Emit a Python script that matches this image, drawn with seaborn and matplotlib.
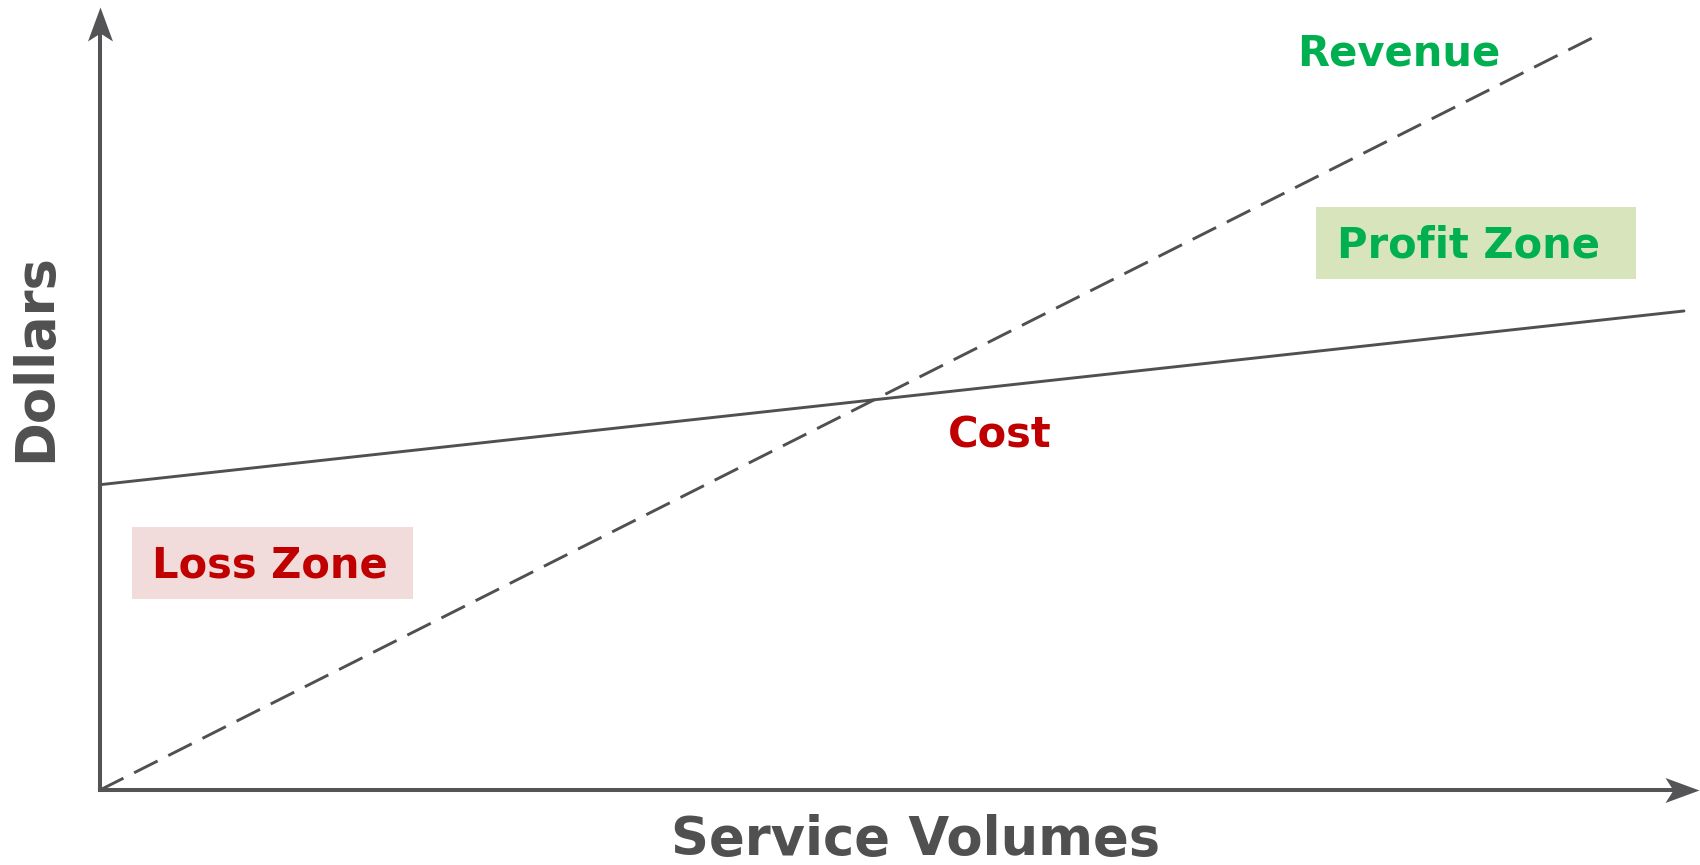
import matplotlib
matplotlib.use("Agg")
import matplotlib.pyplot as plt
import seaborn as sns
import pandas as pd
from matplotlib.patches import Rectangle
from matplotlib.path import Path

# ---- data (arbitrary units) ----
volume_cost = [0, 100]
cost = [40.6, 63.7]
volume_revenue = [0, 94.2]
revenue = [0, 100]

x_label = "Service Volumes"
y_label = "Dollars"
revenue_label = "Revenue"
cost_label = "Cost"
profit_label = "Profit Zone"
loss_label = "Loss Zone"

sns.set_theme(style="white")
plt.rcParams['font.family'] = ['DejaVu Sans']

W, H, DPI = 1700, 865, 100
fig = plt.figure(figsize=(W / DPI, H / DPI), dpi=DPI)
fig.patch.set_facecolor("white")

# axes from origin (100, 790)px to arrow tips
ox, oy = 100, 790
right_px, top_px = 1699, 7
ax = fig.add_axes([ox / W, (H - oy) / H, (right_px - ox) / W, (oy - top_px) / H])
sx = 1584 / 100.0   # px per x unit
sy = 752 / 100.0    # px per y unit
xmax = (right_px - ox) / sx
ymax = (oy - top_px) / sy
ax.set_xlim(0, xmax)
ax.set_ylim(0, ymax)
ax.set_axis_off()

line_col = "#505050"
axis_col = "#545456"
red = "#C00000"
green = "#00B050"

cost_df = pd.DataFrame({"volume": volume_cost, "dollars": cost})
rev_df = pd.DataFrame({"volume": volume_revenue, "dollars": revenue})
sns.lineplot(data=cost_df, x="volume", y="dollars", ax=ax, color=line_col,
             linewidth=2.1, clip_on=False)
sns.lineplot(data=rev_df, x="volume", y="dollars", ax=ax, color=line_col,
             linewidth=2.1, clip_on=False)
ax.lines[-1].set_dashes((9, 4.11))

# axis lines with stealth arrowheads
notch = 26  # px
ax.plot([0, xmax - notch / sx], [0, 0], color=axis_col, lw=2.9,
        solid_capstyle="projecting", clip_on=False)
ax.plot([0, 0], [0, ymax - notch / sy], color=axis_col, lw=2.9,
        solid_capstyle="projecting", clip_on=False)
hl, hw = 34, 12.5
x_head = Path([(0, 0), (-hl, hw), (-notch, 0), (-hl, -hw), (0, 0)],
              [Path.MOVETO, Path.LINETO, Path.LINETO, Path.LINETO, Path.CLOSEPOLY])
y_head = Path([(0, 0), (hw, -hl), (0, -notch), (-hw, -hl), (0, 0)],
              [Path.MOVETO, Path.LINETO, Path.LINETO, Path.LINETO, Path.CLOSEPOLY])
ms = 2 * hl * 72 / DPI
ax.plot([xmax], [0], marker=x_head, markersize=ms, color=axis_col,
        markeredgewidth=0, clip_on=False)
ax.plot([0], [ymax], marker=y_head, markersize=ms, color=axis_col,
        markeredgewidth=0, clip_on=False)

def dx(px):
    return (px - ox) / sx

def dy(py):
    return (oy - py) / sy

# zone boxes
ax.add_patch(Rectangle((dx(132), dy(599)), dx(413) - dx(132), dy(527) - dy(599),
                       facecolor="#F2DCDB", edgecolor="none", zorder=1))
ax.add_patch(Rectangle((dx(1316), dy(279)), dx(1636) - dx(1316), dy(207) - dy(279),
                       facecolor="#D8E4BC", edgecolor="none", zorder=1))

fs = 30
ax.text(dx(152), dy(577), loss_label, color=red, fontsize=fs, fontweight="bold",
        ha="left", va="baseline", zorder=3)
ax.text(dx(1337), dy(257), profit_label, color=green, fontsize=fs, fontweight="bold",
        ha="left", va="baseline", zorder=3)
ax.text(dx(1297), dy(65), revenue_label, color=green, fontsize=fs, fontweight="bold",
        ha="left", va="baseline", zorder=3)
ax.text(dx(948), dy(447), cost_label, color=red, fontsize=fs, fontweight="bold",
        ha="left", va="baseline", zorder=3)

fig.text(916 / W, (H - 855) / H, x_label, color="#505050", fontsize=38,
         fontweight="bold", ha="center", va="baseline")
fig.text(35 / W, (H - 358) / H, y_label, color="#505050", fontsize=38,
         fontweight="bold", ha="center", va="center", rotation=90)

fig.savefig("out.png", dpi=DPI, facecolor="white")
